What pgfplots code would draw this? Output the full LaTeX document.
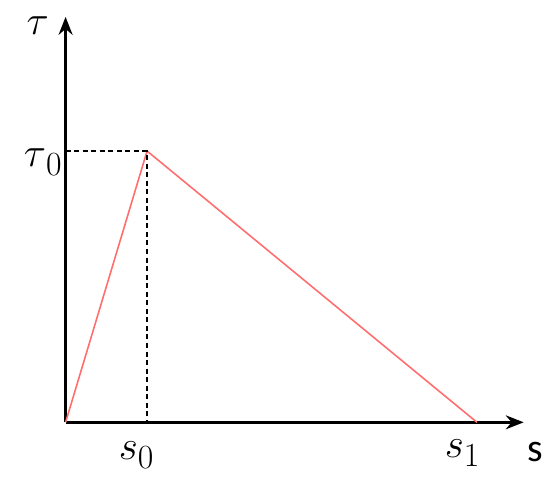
\documentclass[border=0pt]{standalone}
\usepackage{pgfplots}
\pgfplotsset{compat=1.18}
\usepackage{fontspec}
\newfontfamily\carlito{Carlito}
\usetikzlibrary{arrows.meta}
\newcommand{\lab}[2]{\fontsize{21}{24}\selectfont $#1$\raisebox{-4.5pt}{\fontsize{17}{20}\selectfont #2}}
\begin{document}
\begin{tikzpicture}
\begin{axis}[
  scale only axis,
  width=230.5pt, height=204pt,
  xmin=0, xmax=461, ymin=0, ymax=408,
  axis lines=left,
  axis line style={line width=1.4pt, -{Stealth[length=9pt,width=7pt]}},
  xtick=\empty, ytick=\empty,
  clip=false,
]
\path (axis cs:-66,-57) rectangle (axis cs:484,425);
\addplot[draw={rgb,255:red,255;green,110;blue,110}, line width=0.8pt] coordinates {(0,0) (82,273) (414,0)};
\addplot[black, line width=0.6pt, dash pattern=on 2.5pt off 1.8pt] coordinates {(0,273) (82,273) (82,0)};
\node at (axis cs:-28,399) {\fontsize{22}{24}\selectfont $\tau$};
\node at (axis cs:-23,262) {\lab{\tau}{0}};
\node at (axis cs:71,-33) {\lab{s}{0}};
\node at (axis cs:399,-31) {\lab{s}{1}};
\node at (axis cs:473,-30) {\fontsize{20}{24}\selectfont\carlito s};
\end{axis}
\end{tikzpicture}
\end{document}
